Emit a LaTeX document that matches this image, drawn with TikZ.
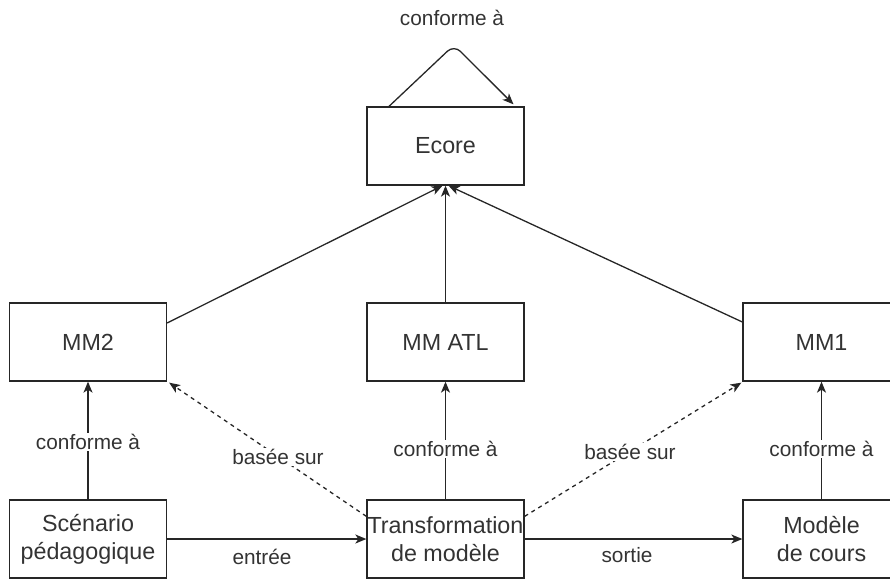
\documentclass[tikz,border=0pt]{standalone}
\usepackage{fontspec}
\setmainfont{Liberation Sans}
\usetikzlibrary{arrows.meta}
\begin{document}
\begin{tikzpicture}[x=1pt,y=-1pt,
  box/.style={draw=black!85, line width=1.3pt, minimum width=157pt, minimum height=78pt,
    inner sep=0pt, align=center, font=\fontsize{23.3}{28}\selectfont, text=black!80},
  lbl/.style={font=\fontsize{20.8}{24}\selectfont, text=black!80, inner sep=1.5pt},
  onedge/.style={lbl, fill=white},
  link/.style={draw=black!85, line width=1.3pt, -{Stealth[length=11pt,width=9pt,inset=3pt]}},
  ref/.style={link, dash pattern=on 4pt off 4pt}]
  \useasboundingbox (0,0) rectangle (890,579);
  \clip (0,0) rectangle (890,579);

  % metamodel layers
  \node[box] (ecore) at (445.5,146) {Ecore};
  \node[box] (mm2)   at (88,342)    {MM2};
  \node[box] (mmatl) at (445.5,342) {MM ATL};
  \node[box] (mm1)   at (821.5,342) {MM1};

  % models
  \node[box] (scen)  at (88,539)    {Scénario\\pédagogique};
  \node[box] (trans) at (445.5,539) {Transformation\\de modèle};
  \node[box] (cours) at (821.5,539) {Modèle\\de cours};

  % Ecore conforms to itself
  \coordinate (apex) at (454,45);
  \draw[link, rounded corners=9pt] ([xshift=-56.5pt]ecore.north) -- (apex) -- ([xshift=68pt,yshift=2pt]ecore.north);
  \node[lbl] (lself) at (452,18) {conforme à};

  % metamodels conform to Ecore
  \draw[link] ([yshift=19pt]mm2.east) -- ([xshift=-3pt]ecore.south);
  \draw[link] (mmatl.north) -- (ecore.south);
  \draw[link] ([yshift=20pt]mm1.west) -- ([xshift=3pt]ecore.south);

  % models conform to their metamodels
  \draw[link] (scen.north) -- (mm2.south);
  \draw[link] (trans.north) -- (mmatl.south);
  \draw[link] (cours.north) -- (mm1.south);
  \node[onedge] (lc1) at (88,442)    {conforme à};
  \node[onedge] (lc2) at (445.5,449) {conforme à};
  \node[onedge] (lc3) at (821.5,449) {conforme à};

  % transformation based on source and target metamodels
  \draw[ref] ([yshift=-17pt]trans.north west) -- ([xshift=2pt,yshift=-1pt]mm2.south east);
  \draw[ref] ([yshift=-17pt]trans.north east) -- ([xshift=-1pt,yshift=-1pt]mm1.south west);
  \node[onedge] (lb1) at (278,457) {basée sur};
  \node[onedge] (lb2) at (630,452) {basée sur};

  % input and output
  \draw[link] (scen.east) -- (trans.west);
  \draw[link] (trans.east) -- (cours.west);
  \node[lbl] (lin)  at (262,557) {entrée};
  \node[lbl] (lout) at (627,555) {sortie};
\end{tikzpicture}
\end{document}
